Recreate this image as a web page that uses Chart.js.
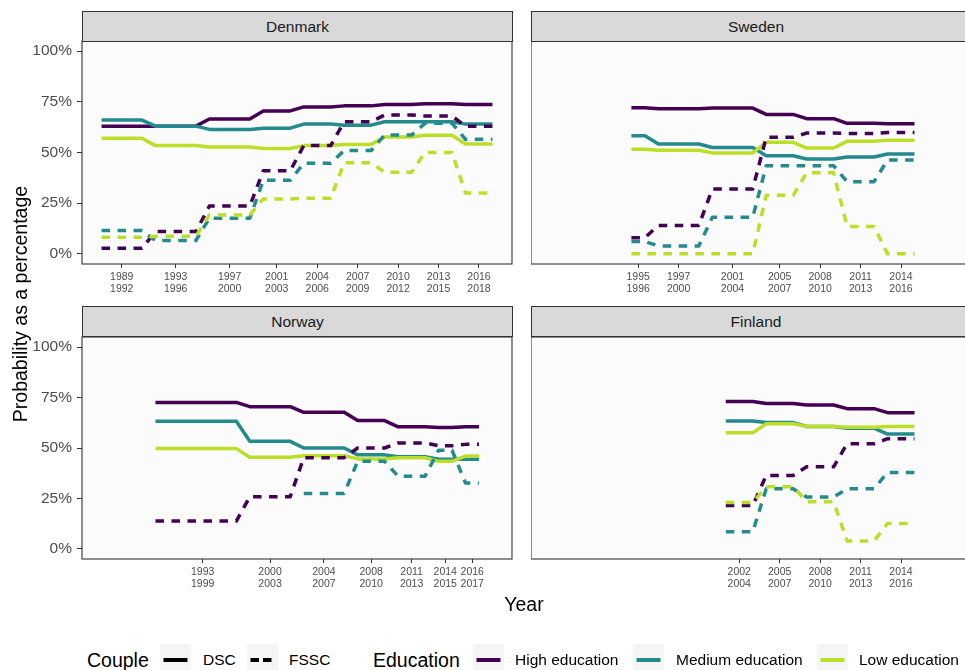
<!DOCTYPE html>
<html>
<head>
<meta charset="utf-8">
<script src="https://cdn.jsdelivr.net/npm/chart.js@4.4.0/dist/chart.umd.min.js"></script>
<style>
  body { margin: 0; background: #fff; font-family: "Liberation Sans", Arial, sans-serif; }
  #page { position: relative; width: 965px; height: 670px; overflow: hidden; background: #fff; }
  .panel { position: absolute; }
  .strip {
    position: absolute; height: 31px; box-sizing: border-box;
    background: #d9d9d9; border: 1px solid #333;
    text-align: center; line-height: 29px; font-size: 15.5px; color: #1a1a1a;
  }
  .title { position: absolute; font-size: 19.5px; color: #000; line-height: 24px; white-space: nowrap; }
  .lab { position: absolute; font-size: 15.5px; color: #000; line-height: 24px; white-space: nowrap; }
  .key { position: absolute; width: 31px; height: 32px; background: #f5f5f5; }
  .key svg { display: block; }
</style>
</head>
<body>
<div id="page">
  <div class="panel" style="left:30px;top:31px;width:483px;height:273px"><canvas id="denmark"></canvas></div>
  <div class="panel" style="left:531px;top:31px;width:450px;height:273px"><canvas id="sweden"></canvas></div>
  <div class="panel" style="left:30px;top:327px;width:483px;height:272px"><canvas id="norway"></canvas></div>
  <div class="panel" style="left:531px;top:327px;width:450px;height:272px"><canvas id="finland"></canvas></div>

  <div class="strip" style="left:82px;top:11px;width:431px">Denmark</div>
  <div class="strip" style="left:531px;top:11px;width:450px">Sweden</div>
  <div class="strip" style="left:82px;top:306px;width:431px">Norway</div>
  <div class="strip" style="left:531px;top:306px;width:450px">Finland</div>

  <div class="title" style="left:-180px;top:292px;width:400px;text-align:center;transform:rotate(-90deg)">Probability as a percentage</div>
  <div class="title" style="left:424px;top:592px;width:200px;text-align:center">Year</div>

  <div id="legend"></div>
</div>

<script>
// Периоды (начало, конец) по странам
const periodsDenmark = [[1989, 1992], [1993, 1996], [1997, 2000], [2001, 2003], [2004, 2006], [2007, 2009], [2010, 2012], [2013, 2015], [2016, 2018]];
const periodsSweden = [[1995, 1996], [1997, 2000], [2001, 2004], [2005, 2007], [2008, 2010], [2011, 2013], [2014, 2016]];
const periodsNorway = [[1993, 1999], [2000, 2003], [2004, 2007], [2008, 2010], [2011, 2013], [2014, 2015], [2016, 2017]];
const periodsFinland = [[2002, 2004], [2005, 2007], [2008, 2010], [2011, 2013], [2014, 2016]];

// Положение подписей оси X
const ticksDenmark = [1990.5, 1994.5, 1998.5, 2002, 2005, 2008, 2011, 2014, 2017];
const ticksSweden = [1995.5, 1998.5, 2002.5, 2006, 2009, 2012, 2015];
const ticksNorway = [1996.5, 2001.5, 2005.5, 2009, 2012, 2014.5, 2016.5];
const ticksFinland = [2003, 2006, 2009, 2012, 2015];

// Значения (%) по периодам
const denmarkHighDSC = [63, 63, 66.5, 70.5, 72.5, 73, 73.7, 74, 73.7];
const denmarkMediumDSC = [66, 63, 61.4, 62, 64, 63.5, 65.2, 65.2, 64];
const denmarkLowDSC = [57, 53.4, 52.7, 52, 53.4, 54, 57.6, 58.5, 54.2];
const denmarkHighFSSC = [2.8, 11, 23.6, 41, 53.4, 65.2, 68.5, 68, 63];
const denmarkMediumFSSC = [11.5, 6.6, 17.6, 36.3, 44.7, 51, 58.6, 64.4, 56.5];
const denmarkLowFSSC = [8.2, 8.7, 19.2, 27.1, 27.4, 45, 40.2, 50, 30];

const swedenHighDSC = [72.1, 71.6, 71.9, 68.8, 66.7, 64.4, 64.2];
const swedenMediumDSC = [58.3, 54.2, 52.5, 48.4, 46.8, 47.8, 49.3];
const swedenLowDSC = [51.6, 51.1, 49.8, 55, 52.2, 55.5, 56];
const swedenHighFSSC = [8, 14, 32, 57.5, 59.6, 59.4, 59.9];
const swedenMediumFSSC = [6.1, 3.9, 18, 43.5, 43.5, 35.6, 46.3];
const swedenLowFSSC = [0, 0, 0, 28.9, 40, 13.5, 0];

const norwayHighDSC = [72.6, 70.5, 67.7, 63.6, 60.5, 60.2, 60.5];
const norwayMediumDSC = [63.3, 53.3, 50, 46.6, 45.7, 44.4, 44.4];
const norwayLowDSC = [49.7, 45.4, 46.2, 44.6, 45.2, 43.4, 46];
const norwayHighFSSC = [13.8, 25.9, 45.2, 50, 52.5, 51.1, 51.8];
const norwayMediumFSSC = [null, null, 27.5, 43.4, 36, 48.9, 32.6];
const norwayLowFSSC = [];

const finlandHighDSC = [73, 72.1, 71.3, 69.5, 67.5];
const finlandMediumDSC = [63.4, 62.6, 60.7, 59.8, 56.9];
const finlandLowDSC = [57.5, 62, 60.7, 60.3, 60.7];
const finlandHighFSSC = [21.5, 36.4, 40.7, 52.1, 54.6];
const finlandMediumFSSC = [8.5, 29.8, 25.7, 29.8, 37.9];
const finlandLowFSSC = [23, 30.8, 23.4, 3.9, 12.6];

const educationColors = { high: '#440154', medium: '#238a8d', low: '#bbdf27' };
const FONT = '"Liberation Sans", Arial, sans-serif';
const X_MIN = 1987.55;
const PX_PER_YEAR = 430 / 31.9;

Chart.defaults.font.family = FONT;

// Фон панели и рамка
const panelFrame = {
    id: 'panelFrame',
    beforeDraw(chart) {
        const a = chart.chartArea;
        const ctx = chart.ctx;
        ctx.save();
        ctx.fillStyle = '#fbfbfb';
        ctx.fillRect(a.left, a.top, a.right - a.left, a.bottom - a.top);
        ctx.restore();
    },
    afterDraw(chart) {
        const a = chart.chartArea;
        const ctx = chart.ctx;
        ctx.save();
        ctx.strokeStyle = '#333';
        ctx.lineWidth = 1.1;
        ctx.strokeRect(a.left, a.top, a.right - a.left, a.bottom - a.top);
        ctx.restore();
    }
};

// Точки ступенек: значение держится на протяжении периода
function stepPoints(periods, values) {
    const pts = [];
    values.forEach((v, i) => {
        if (v === null || v === undefined) return;
        pts.push({ x: periods[i][0], y: v });
        pts.push({ x: periods[i][1], y: v });
    });
    return pts;
}

function makePanel(id, periods, tickVals, series, showY, width) {
    const labels = periods.map(p => [String(p[0]), String(p[1])]);
    const chartWidth = width - (showY ? 53 : 0);
    const xMax = X_MIN + chartWidth / PX_PER_YEAR;

    // порядок ggplot: сначала DSC, потом FSSC
    const order = [
        ['DSC', 'high'], ['DSC', 'medium'], ['DSC', 'low'],
        ['FSSC', 'high'], ['FSSC', 'medium'], ['FSSC', 'low']
    ];
    const datasets = order.map(([couple, edu]) => ({
        label: couple + ' ' + edu,
        data: stepPoints(periods, series[couple][edu]),
        borderColor: educationColors[edu],
        borderWidth: 3.5,
        borderDash: couple === 'FSSC' ? [8.5, 7.5] : [],
        borderCapStyle: 'butt',
        borderJoinStyle: 'round',
        pointRadius: 0,
        tension: 0,
        fill: false
    })).reverse(); // в Chart.js первый набор рисуется сверху

    new Chart(document.getElementById(id), {
        type: 'line',
        data: { datasets },
        options: {
            responsive: true,
            maintainAspectRatio: false,
            animation: false,
            layout: { padding: { top: 10, right: showY ? 1 : 0, left: 0, bottom: 0 } },
            plugins: { legend: { display: false }, tooltip: { enabled: false } },
            scales: {
                x: {
                    type: 'linear',
                    min: X_MIN,
                    max: xMax,
                    afterBuildTicks: s => { s.ticks = tickVals.map(v => ({ value: v })); },
                    afterFit: s => { s.height = 40; s.paddingLeft = 0; s.paddingRight = 0; },
                    ticks: {
                        autoSkip: false,
                        maxRotation: 0,
                        padding: 3,
                        color: '#4d4d4d',
                        font: { size: 10.5, lineHeight: 1.15 },
                        callback: (v, i) => labels[i]
                    },
                    grid: { drawOnChartArea: false, tickLength: 4, color: '#333', tickWidth: 1 },
                    border: { display: false }
                },
                y: {
                    display: showY,
                    min: -5,
                    max: 105,
                    afterBuildTicks: s => { s.ticks = [0, 25, 50, 75, 100].map(v => ({ value: v })); },
                    afterFit: s => {
                        s.width = showY ? 52 : 0;
                        s.paddingTop = 0;
                        s.paddingBottom = 0;
                    },
                    ticks: {
                        padding: 5,
                        color: '#4d4d4d',
                        font: { size: 15.5 },
                        callback: v => v + '%'
                    },
                    grid: { drawOnChartArea: false, tickLength: 5, color: '#333', tickWidth: 1 },
                    border: { display: false }
                }
            }
        },
        plugins: [panelFrame]
    });
}

makePanel('denmark', periodsDenmark, ticksDenmark, {
    DSC: { high: denmarkHighDSC, medium: denmarkMediumDSC, low: denmarkLowDSC },
    FSSC: { high: denmarkHighFSSC, medium: denmarkMediumFSSC, low: denmarkLowFSSC }
}, true, 483);
makePanel('sweden', periodsSweden, ticksSweden, {
    DSC: { high: swedenHighDSC, medium: swedenMediumDSC, low: swedenLowDSC },
    FSSC: { high: swedenHighFSSC, medium: swedenMediumFSSC, low: swedenLowFSSC }
}, false, 450);
makePanel('norway', periodsNorway, ticksNorway, {
    DSC: { high: norwayHighDSC, medium: norwayMediumDSC, low: norwayLowDSC },
    FSSC: { high: norwayHighFSSC, medium: norwayMediumFSSC, low: norwayLowFSSC }
}, true, 483);
makePanel('finland', periodsFinland, ticksFinland, {
    DSC: { high: finlandHighDSC, medium: finlandMediumDSC, low: finlandLowDSC },
    FSSC: { high: finlandHighFSSC, medium: finlandMediumFSSC, low: finlandLowFSSC }
}, false, 450);

// Легенда внизу
(function buildLegend() {
    const legend = document.getElementById('legend');
    const cy = 660;
    const items = [
        { type: 'title', text: 'Couple', x: 87 },
        { type: 'key', x: 160, color: '#000', dash: false },
        { type: 'label', text: 'DSC', x: 203 },
        { type: 'key', x: 247, color: '#000', dash: true },
        { type: 'label', text: 'FSSC', x: 289 },
        { type: 'title', text: 'Education', x: 373 },
        { type: 'key', x: 473, color: educationColors.high, dash: false },
        { type: 'label', text: 'High education', x: 515 },
        { type: 'key', x: 633, color: educationColors.medium, dash: false },
        { type: 'label', text: 'Medium education', x: 676 },
        { type: 'key', x: 817, color: educationColors.low, dash: false },
        { type: 'label', text: 'Low education', x: 859 }
    ];
    items.forEach(it => {
        const el = document.createElement('div');
        if (it.type === 'key') {
            el.className = 'key';
            el.style.left = it.x + 'px';
            el.style.top = (cy - 16) + 'px';
            const dash = it.dash ? 'stroke-dasharray="8.5 4"' : '';
            el.innerHTML = '<svg width="31" height="32"><line x1="3.5" y1="16" x2="27.5" y2="16" stroke="' +
                it.color + '" stroke-width="4" ' + dash + '/></svg>';
        } else {
            el.className = it.type === 'title' ? 'title' : 'lab';
            el.style.left = it.x + 'px';
            el.style.top = (cy - 12) + 'px';
            el.textContent = it.text;
        }
        legend.appendChild(el);
    });
})();
</script>
</body>
</html>
